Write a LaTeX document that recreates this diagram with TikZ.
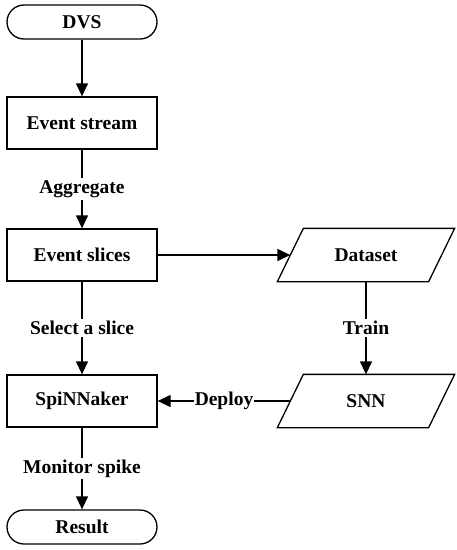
\documentclass[tikz,border=0pt]{standalone}
\usepackage{fontspec}
\setmainfont{LiberationSerif}[Extension=.ttf, UprightFont=*-Regular, BoldFont=*-Bold, ItalicFont=*-Italic, BoldItalicFont=*-BoldItalic]
\usetikzlibrary{arrows.meta,positioning,calc}

\tikzset{
    base/.style={line width=1.3pt, font=\fontsize{19.5}{22}\selectfont\bfseries, inner sep=0pt},
    process/.style={base, draw, rectangle, minimum width=150pt, minimum height=52pt},
    terminal/.style={base, draw, rectangle, rounded corners=17pt, minimum width=150pt, minimum height=34pt},
    data/.style={base, rectangle, minimum width=150pt, minimum height=52pt},
    flow/.style={line width=1.3pt, -{Triangle[length=13pt,width=12pt]}},
    lab/.style={fill=white, inner sep=2pt, font=\fontsize{19.5}{22}\selectfont\bfseries}
}

\begin{document}
\begin{tikzpicture}[x=1pt, y=-1pt]
    \useasboundingbox (0,0) rectangle (457,550);

    \node[terminal] (dvs) at (82, 22) {DVS};
    \node[process] (stream) at (82, 123) {Event stream};
    \node[process] (slices) at (82, 255) {Event slices};
    \node[data] (dataset) at (366, 255) {Dataset};
    \node[data] (snn) at (366, 401) {SNN};
    \node[process] (spin) at (82, 401) {SpiNNaker};
    \node[terminal] (result) at (82, 527) {Result};

    % parallelograms round the data nodes
    \foreach \n in {dataset, snn}
        \draw[line width=1.3pt, line join=miter]
            ($(\n.south west)+(-13,0)$) -- ($(\n.south east)+(-13,0)$)
            -- ($(\n.north east)+(13,0)$) -- ($(\n.north west)+(13,0)$) -- cycle;

    \draw[flow] (dvs) -- (stream);
    \draw[flow] (stream) -- node[lab] {Aggregate} (slices);
    \draw[flow] (slices) -- (dataset);
    \draw[flow] (slices) -- node[lab] {Select a slice} (spin);
    \draw[flow] (dataset) -- node[lab] {Train} (snn);
    \draw[flow] (snn) -- node[lab, inner sep=1pt] {Deploy} (spin);
    \draw[flow] (spin) -- node[lab] {Monitor spike} (result);
\end{tikzpicture}
\end{document}
